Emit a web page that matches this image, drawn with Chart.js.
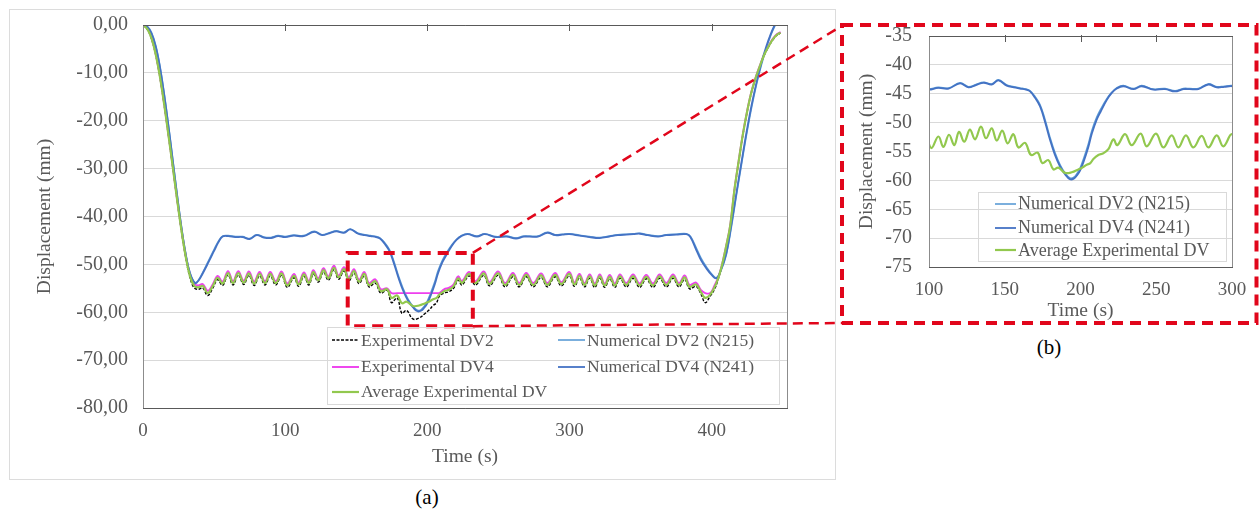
<!DOCTYPE html>
<html>
<head>
<meta charset="utf-8">
<script src="https://cdn.jsdelivr.net/npm/chart.js@4.4.1/dist/chart.umd.min.js"></script>
<style>
  body { margin: 0; width: 1260px; height: 510px; background: #fff; position: relative; overflow: hidden;
         font-family: "Liberation Serif", "Times New Roman", serif; }
  .abs { position: absolute; }
  #frameA { left: 9px; top: 9px; width: 827px; height: 471px; border: 1px solid #dcdcdc; box-sizing: border-box; }
  .legend { position: absolute; border: 1px solid #d9d9d9; box-sizing: border-box; color: #595959; }
  .lg-item { position: absolute; height: 22px; display: flex; align-items: center; white-space: nowrap; }
  .lg-item svg { display: block; margin-right: 2px; }
  .cap { position: absolute; font-size: 21px; color: #000; transform: translate(-50%, -50%); }
</style>
</head>
<body>
<div id="frameA" class="abs"></div>
<canvas id="chartA" class="abs" width="825" height="469" style="left:10px;top:10px"></canvas>
<div id="legendA" class="legend" style="left:327px;top:327px;width:453px;height:78px;font-size:17.5px"></div>
<div class="cap" style="left:427px;top:497px">(a)</div>

<canvas id="chartB" class="abs" width="414" height="298" style="left:843px;top:25px"></canvas>
<div id="legendB" class="legend" style="left:978px;top:192px;width:249px;height:70px;font-size:18px"></div>
<div class="cap" style="left:1049px;top:347px">(b)</div>

<svg id="overlay" class="abs" width="1260" height="510" style="left:0;top:0;pointer-events:none">
  <rect x="842" y="25" width="414.5" height="298" fill="none" stroke="#e1061b" stroke-width="4" stroke-dasharray="11 7"></rect>
  <line id="linkTop" stroke="#e1061b" stroke-width="2.5" stroke-dasharray="10 6"></line>
  <line id="linkBot" stroke="#e1061b" stroke-width="2.5" stroke-dasharray="10 6"></line>
</svg>

<script>
// ---------- Data ----------
const SERIES_NAMES = ["Experimental DV2", "Numerical DV2 (N215)", "Experimental DV4", "Numerical DV4 (N241)", "Average Experimental DV"];

// experimental records share one time base (s)
const expTime = [0, 3, 6, 9, 12, 15, 18, 21, 24, 27, 30, 33, 36, 39, 42, 45.5, 49, 52.5, 56, 59.8,
  63.3, 67, 70.8, 74.5, 78.2, 82, 85.8, 89.5, 93.4, 97.5, 101.5, 106.2, 109.5, 113.2, 116.7, 119.8, 123.3, 127, 130.4, 134.3,
  137.6, 141.4, 144.7, 148.4, 151.9, 155.7, 159, 163.4, 167.3, 171.7, 174.8, 178.8, 182.1, 185.4, 189.8, 194.2, 198.6, 201, 204.1, 206.5,
  208.5, 211.8, 215.1, 218.4, 221.7, 224.3, 229.4, 233.8, 239.7, 243.7, 249.8, 254.7, 260.2, 264.6, 269.6, 274.5, 280, 284.4, 289.9, 294.3,
  299.8, 303.5, 307, 310.6, 314.2, 317.8, 321.3, 324.8, 328.3, 331.9, 335.5, 340, 344.7, 349.3, 354, 358.7, 363.4, 368.1, 372.8, 377,
  381, 384.5, 389, 392.5, 395.5, 399, 402, 404.5, 407, 410, 413, 416, 419, 422, 425, 428, 431, 434, 437, 440,
  443, 446, 448.5];

const avgDV = [0, -0.8, -2.8, -6.2, -11, -16.8, -23.2, -29.8, -36.5, -42.8, -48.3, -52.4, -54.5, -54.8, -54.5, -56.0, -54.6, -52.8, -54.0, -51.8,
  -53.9, -51.8, -53.8, -51.9, -54.0, -52.0, -53.9, -52.0, -53.9, -51.9, -54.4, -52.4, -54.2, -52.1, -53.9, -51.6, -53.3, -51.2, -52.9, -50.7,
  -52.7, -51.0, -53.1, -51.4, -53.6, -52.0, -54.3, -53.5, -55.6, -55.2, -57.0, -56.5, -58.1, -57.8, -58.7, -58.6, -58.1, -57.8, -57.3, -57.0,
  -56.3, -55.6, -55.3, -54.6, -52.9, -53.9, -52.0, -53.9, -51.9, -54.1, -51.9, -54.3, -52.2, -54.3, -52.2, -54.3, -52.3, -54.3, -52.2, -54.1,
  -52.0, -54.2, -52.4, -54.3, -52.5, -54.4, -52.5, -54.4, -52.6, -54.4, -52.5, -54.3, -52.5, -54.4, -52.6, -54.4, -52.5, -54.3, -52.5, -54.3,
  -52.7, -54.7, -54.2, -55.8, -57.0, -56.3, -54.8, -53.0, -50.5, -46.5, -42, -34.5, -28.5, -22.8, -18, -14, -11, -8.5, -6.2, -4.5,
  -3, -2, -1.6];

const expDV4 = [0, -0.7, -2.7, -6.1, -10.9, -16.7, -23.1, -29.7, -36.4, -42.6, -48.1, -52.1, -54.1, -54.4, -54.1, -55.5, -54.2, -52.4, -53.6, -51.4,
  -53.5, -51.4, -53.4, -51.5, -53.6, -51.6, -53.5, -51.6, -53.5, -51.5, -54.0, -52.0, -53.8, -51.7, -53.5, -51.2, -52.9, -50.8, -52.5, -50.3,
  -52.3, -50.6, -52.7, -51.0, -53.2, -51.6, -53.9, -53.1, -55.2, -55.0, -56.0, -56.0, -56.0, -56.0, -56.0, -56.0, -56.0, -56.0, -56.0, -56.0,
  -56.0, -55.2, -54.9, -54.2, -52.5, -53.5, -51.6, -53.5, -51.5, -53.7, -51.5, -53.9, -51.8, -53.9, -51.8, -53.9, -51.9, -53.9, -51.8, -53.7,
  -51.6, -53.8, -52.0, -53.9, -52.1, -54.0, -52.1, -54.0, -52.2, -54.0, -52.1, -53.9, -52.1, -54.0, -52.2, -54.0, -52.1, -53.9, -52.1, -53.9,
  -52.3, -54.3, -53.8, -55.4, -56.0, -56.0, -54.4, -52.8, -50.4, -46.4, -41.9, -34.4, -28.4, -22.7, -17.9, -13.9, -10.9, -8.4, -6.1, -4.4,
  -2.9, -1.9, -1.5];

const expDV2 = [0, -0.9, -2.9, -6.3, -11.1, -16.9, -23.3, -29.9, -36.6, -43.0, -48.5, -52.7, -54.9, -55.2, -54.9, -56.5, -55.0, -53.2, -54.4, -52.2,
  -54.3, -52.2, -54.2, -52.3, -54.4, -52.4, -54.3, -52.4, -54.3, -52.3, -54.8, -52.8, -54.6, -52.5, -54.3, -52.0, -53.7, -51.6, -53.3, -51.1,
  -53.1, -51.4, -53.5, -51.8, -54.0, -52.4, -54.7, -53.9, -56.0, -55.4, -58.0, -57.0, -60.2, -59.6, -61.4, -61.2, -60.2, -59.6, -58.6, -58.0,
  -56.6, -56.0, -55.7, -55.0, -53.3, -54.3, -52.4, -54.3, -52.3, -54.5, -52.3, -54.7, -52.6, -54.7, -52.6, -54.7, -52.7, -54.7, -52.6, -54.5,
  -52.4, -54.6, -52.8, -54.7, -52.9, -54.8, -52.9, -54.8, -53.0, -54.8, -52.9, -54.7, -52.9, -54.8, -53.0, -54.8, -52.9, -54.7, -52.9, -54.7,
  -53.1, -55.1, -54.6, -56.2, -58.0, -56.6, -55.2, -53.2, -50.6, -46.6, -42.1, -34.6, -28.6, -22.9, -18.1, -14.1, -11.1, -8.6, -6.3, -4.6,
  -3.1, -2.1, -1.7];

// numerical model output, its own time base (s)
const numTime = [0, 3, 6, 9, 12, 15, 18, 21, 24, 27, 30, 33, 36.5, 39, 42, 46, 50, 53, 56, 60,
  65, 70, 75, 80, 85, 90, 95, 100, 106, 113, 120.5, 126, 131, 136, 141.4, 145.8, 151.3, 156, 160, 164,
  166.7, 170, 173.3, 176.5, 179.9, 183, 186.5, 190, 193, 195.5, 198, 199.7, 202, 205.2, 207.5, 210.7, 213.5, 217.3, 220.5, 223.9,
  228.3, 234.9, 240.4, 248.1, 255.8, 262.4, 267.9, 272, 277.8, 284.4, 289.9, 295, 300, 307, 314, 321.3, 328, 334, 340, 345,
  349.4, 355, 362.3, 368, 375, 382.2, 385, 389.2, 392.5, 396.2, 400, 403.3, 406.5, 410.3, 413.8, 417.4, 421, 424.4, 427.9, 431.4,
  434.9, 438.4, 441.4, 444.3, 447];

const numDV4 = [0, -0.4, -1.8, -4.6, -9, -14.8, -21.4, -28.5, -35.6, -42.2, -47.8, -51.8, -53.9, -53.4, -51.9, -49.6, -47.2, -45.4, -44.2, -44.1,
  -44.3, -44.3, -44.7, -43.9, -44.4, -44.5, -44.1, -44.3, -44.0, -44.1, -43.2, -43.9, -43.5, -43.1, -43.4, -42.7, -43.6, -43.9, -44.1, -44.3,
  -44.6, -45.7, -47.2, -49.8, -53.0, -55.5, -57.6, -59.0, -59.8, -59.7, -59.0, -58.3, -56.8, -54.2, -51.9, -49.5, -48.0, -46.1, -44.9, -44.1,
  -43.7, -44.2, -43.7, -44.3, -44.2, -44.6, -44.2, -44.2, -44.2, -43.4, -43.9, -43.8, -43.7, -44.0, -44.3, -44.5, -44.2, -43.9, -43.8, -43.7,
  -43.6, -43.9, -44.2, -43.9, -43.8, -43.7, -44.3, -47.0, -49.1, -50.8, -52.2, -52.9, -51.2, -47.7, -41.8, -35.1, -28.6, -22.6, -17.0, -12.2,
  -8.0, -4.5, -2.0, 0, 1.5];

const numDV2 = [0, -0.3, -1.6, -4.3, -8.7, -14.5, -21.1, -28.2, -35.3, -42.0, -47.6, -51.7, -53.8, -53.3, -51.7, -49.3, -46.9, -45.2, -44.1, -44.0,
  -44.2, -44.2, -44.6, -43.8, -44.3, -44.4, -44.0, -44.2, -43.9, -44.0, -43.1, -43.8, -43.4, -43.0, -43.3, -42.6, -43.5, -43.8, -44.0, -44.2,
  -44.5, -45.5, -46.9, -49.4, -52.6, -55.1, -57.3, -58.8, -59.6, -59.5, -58.7, -57.9, -56.3, -53.7, -51.4, -49.1, -47.6, -45.9, -44.8, -44.0,
  -43.6, -44.1, -43.6, -44.2, -44.1, -44.5, -44.1, -44.1, -44.1, -43.3, -43.8, -43.7, -43.6, -43.9, -44.2, -44.4, -44.1, -43.8, -43.7, -43.6,
  -43.5, -43.8, -44.1, -43.8, -43.7, -43.6, -44.1, -46.6, -48.7, -50.5, -52.0, -52.8, -51.3, -48.0, -42.3, -35.6, -29.1, -23.1, -17.5, -12.6,
  -8.4, -4.9, -2.3, -0.3, 1.2];

// ---------- Styles ----------
const INK = "#595959";
const SERIF = '"Liberation Serif", "Times New Roman", serif';
const STYLE = {
  expDV2: { color: "#000000", width: 1.4, dash: [3, 1.5] },
  numDV2: { color: "#5b9bd5", width: 1.6, dash: [] },
  expDV4: { color: "#ee3fee", width: 1.9, dash: [] },
  numDV4: { color: "#4472c4", width: 1.8, dash: [] },
  avg:    { color: "#92c84e", width: 2.2, dash: [] },
};

Chart.defaults.font.family = SERIF;
Chart.defaults.color = INK;

const pts = (xs, ys) => xs.map((x, i) => ({ x, y: ys[i] }));

function ds(label, xs, ys, st, order) {
  return {
    label,
    data: pts(xs, ys),
    borderColor: st.color,
    borderWidth: st.width,
    borderDash: st.dash,
    pointRadius: 0,
    fill: false,
    tension: 0.4,
    order,
  };
}

// fixed axis boxes, so the plot area lands where the figure has it
const fixWidth = (w) => (s) => { s.width = w; s.paddingTop = 0; s.paddingBottom = 0; };
const fixHeight = (h) => (s) => { s.height = h; s.paddingLeft = 0; s.paddingRight = 0; };

// plot frame, inner top tick marks and (optionally) the zoom window
const framePlugin = {
  id: "frame",
  afterDatasetsDraw(chart, args, opts) {
    const { ctx, chartArea: a, scales } = chart;
    ctx.save();
    ctx.lineWidth = 1;
    ctx.strokeStyle = "#8c8c8c";
    ctx.strokeRect(a.left + 0.5, a.top + 0.5, a.right - a.left, a.bottom - a.top);
    ctx.strokeStyle = INK;
    ctx.beginPath();
    ctx.moveTo(a.left, a.top + 0.5); ctx.lineTo(a.right + 1, a.top + 0.5);
    ctx.moveTo(a.left, a.bottom + 0.5); ctx.lineTo(a.right + 1, a.bottom + 0.5);
    (opts.marks || []).forEach((v) => {
      const x = Math.round(scales.x.getPixelForValue(v)) + 0.5;
      ctx.moveTo(x, a.top - 1); ctx.lineTo(x, a.top + 6);
    });
    ctx.stroke();

    const z = opts.zoomBox;
    if (z) {
      const x0 = scales.x.getPixelForValue(z.x0), x1 = scales.x.getPixelForValue(z.x1);
      const y0 = scales.y.getPixelForValue(z.y0), y1 = scales.y.getPixelForValue(z.y1);
      ctx.strokeStyle = "#e1061b";
      ctx.lineWidth = 4;
      ctx.setLineDash([11, 7]);
      ctx.strokeRect(x0, y0, x1 - x0, y1 - y0);
      // hook the connector lines of the overlay onto the window corners
      const off = chart.canvas.getBoundingClientRect();
      const top = document.getElementById("linkTop");
      const bot = document.getElementById("linkBot");
      top.setAttribute("x1", off.left + x1); top.setAttribute("y1", off.top + y0);
      top.setAttribute("x2", 843); top.setAttribute("y2", 25);
      bot.setAttribute("x1", off.left + x1); bot.setAttribute("y1", off.top + y1);
      bot.setAttribute("x2", 843); bot.setAttribute("y2", 323);
    }
    ctx.restore();
  },
};

function axisTitle(text, padding) {
  return { display: true, text, color: INK, font: { size: 19.5 }, padding };
}

// ---------- (a) full record ----------
new Chart(document.getElementById("chartA"), {
  type: "line",
  data: {
    datasets: [
      ds(SERIES_NAMES[0], expTime, expDV2, STYLE.expDV2, 5),
      ds(SERIES_NAMES[1], numTime, numDV2, STYLE.numDV2, 4),
      ds(SERIES_NAMES[2], expTime, expDV4, STYLE.expDV4, 3),
      ds(SERIES_NAMES[3], numTime, numDV4, STYLE.numDV4, 2),
      ds(SERIES_NAMES[4], expTime, avgDV, STYLE.avg, 1),
    ],
  },
  options: {
    responsive: false,
    animation: false,
    devicePixelRatio: 1,
    layout: { padding: { left: 0, top: 15, right: 48, bottom: 0 } },
    plugins: {
      legend: { display: false },
      tooltip: { enabled: false },
      frame: { marks: [100, 200, 300, 400], zoomBox: { x0: 144, x1: 232, y0: -47.6, y1: -62.9 } },
    },
    scales: {
      x: {
        type: "linear", min: 0, max: 453,
        grid: { display: false, drawTicks: false },
        border: { display: false },
        ticks: { stepSize: 100, includeBounds: false, padding: 12, maxRotation: 0, font: { size: 19 } },
        title: axisTitle("Time (s)", { top: 0, bottom: 10.5 }),
        afterFit: fixHeight(71),
      },
      y: {
        min: -80, max: 0,
        grid: { color: "#d9d9d9", drawTicks: false },
        border: { display: false },
        ticks: { stepSize: 10, padding: 15, autoSkip: false, font: { size: 20 }, callback: (v) => v.toFixed(2).replace(".", ",") },
        title: axisTitle("Displacement (mm)", { top: 23, bottom: 0 }),
        afterFit: fixWidth(133),
      },
    },
  },
  plugins: [framePlugin],
});

// ---------- (b) detail 100-300 s ----------
new Chart(document.getElementById("chartB"), {
  type: "line",
  data: {
    datasets: [
      ds(SERIES_NAMES[1], numTime, numDV2, STYLE.numDV2, 3),
      ds(SERIES_NAMES[3], numTime, numDV4, STYLE.numDV4, 2),
      ds(SERIES_NAMES[4], expTime, avgDV, STYLE.avg, 1),
    ],
  },
  options: {
    responsive: false,
    animation: false,
    devicePixelRatio: 1,
    layout: { padding: { left: 0, top: 11, right: 25, bottom: 0 } },
    plugins: {
      legend: { display: false },
      tooltip: { enabled: false },
      frame: { marks: [150, 200, 250] },
    },
    scales: {
      x: {
        type: "linear", min: 100, max: 300,
        grid: { display: false, drawTicks: false },
        border: { display: false },
        ticks: { stepSize: 50, padding: 11.5, maxRotation: 0, font: { size: 19 } },
        title: axisTitle("Time (s)", { top: 0, bottom: 0 }),
        afterFit: fixHeight(56),
      },
      y: {
        min: -75, max: -35,
        grid: { color: "#d9d9d9", drawTicks: false },
        border: { display: false },
        ticks: { stepSize: 5, padding: 17, autoSkip: false, font: { size: 20 }, callback: (v) => String(v) },
        title: axisTitle("Displacement (mm)", { top: 12, bottom: 0 }),
        afterFit: fixWidth(86),
      },
    },
  },
  plugins: [framePlugin],
});

// ---------- HTML legends ----------
function buildLegend(el, items, cfg) {
  items.forEach((it, i) => {
    const row = document.createElement("div");
    row.className = "lg-item";
    row.style.left = cfg.colX[i % cfg.colX.length] + "px";
    row.style.top = cfg.rowY[Math.floor(i / cfg.colX.length)] - 11 + "px";
    const w = cfg.sample;
    row.innerHTML =
      `<svg width="${w}" height="6"><line x1="0" y1="3" x2="${w}" y2="3" stroke="${it.st.color}" ` +
      `stroke-width="${it.st.width}" stroke-dasharray="${it.st.dash.join(" ")}"/></svg><span>${it.label}</span>`;
    el.appendChild(row);
  });
}

buildLegend(document.getElementById("legendA"), [
  { label: SERIES_NAMES[0], st: STYLE.expDV2 },
  { label: SERIES_NAMES[1], st: STYLE.numDV2 },
  { label: SERIES_NAMES[2], st: STYLE.expDV4 },
  { label: SERIES_NAMES[3], st: STYLE.numDV4 },
  { label: SERIES_NAMES[4], st: STYLE.avg },
], { colX: [4, 230], rowY: [12, 38.5, 63.5], sample: 27 });

buildLegend(document.getElementById("legendB"), [
  { label: SERIES_NAMES[1], st: STYLE.numDV2 },
  { label: SERIES_NAMES[3], st: STYLE.numDV4 },
  { label: SERIES_NAMES[4], st: STYLE.avg },
], { colX: [16], rowY: [10.5, 34.5, 57], sample: 21 });
</script>
</body>
</html>
